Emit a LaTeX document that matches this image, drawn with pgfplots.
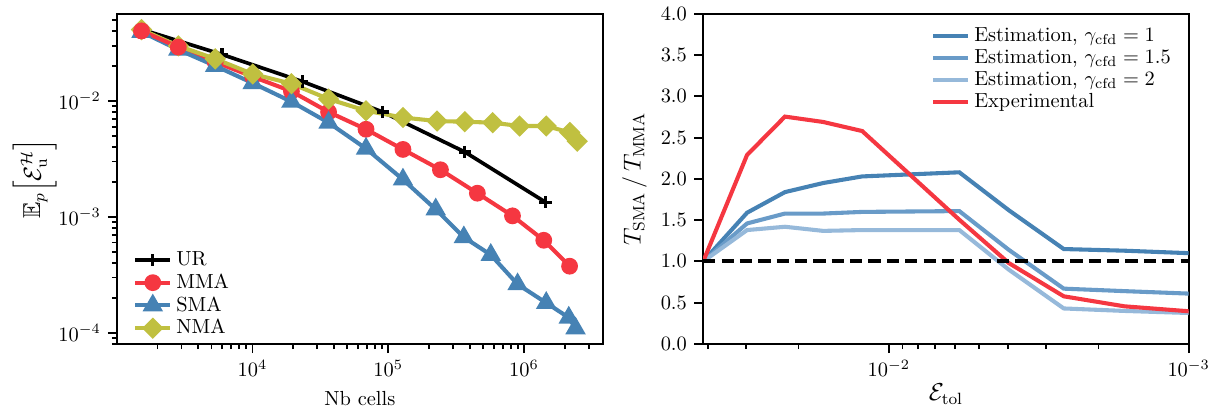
\documentclass[border=0pt]{standalone}
\usepackage{pgfplots}
\pgfplotsset{compat=1.18}
\usepackage{amssymb}
\definecolor{cred}{RGB}{245,55,65}
\definecolor{cblue}{RGB}{70,130,180}
\definecolor{cblueM}{RGB}{105,155,200}
\definecolor{cblueL}{RGB}{150,185,218}
\definecolor{colive}{RGB}{192,192,64}
\pgfplotsset{
  common/.style={
    scale only axis, width=238pt, height=161.8pt,
    tick align=outside, major tick length=4.5pt, minor tick length=2.5pt,
    every tick/.style={black, line width=0.9pt},
    axis line style={line width=1pt},
    xtick pos=left, ytick pos=left,
    legend cell align=left,
  }
}
\begin{document}
\begin{tikzpicture}
\path[use as bounding box] (-57.4pt,-31.9pt) rectangle (543.1pt,168.6pt);
\begin{axis}[common,
  at={(0pt,0pt)}, anchor=south west,
  xmode=log, ymode=log,
  xmin=1007, xmax=3.8e6, ymin=8.0e-5, ymax=0.0565,
  xlabel={Nb cells},
  ylabel={\large$\mathbb{E}_p\Big[\mathcal{E}^{\mathcal{H}}_{\mathrm{u}}\Big]$},
  ylabel style={inner sep=0pt},
  ylabel shift=-2.7pt,
  legend style={draw=none, fill=none, at={(0.02,-0.005)}, anchor=south west, row sep=-1.5pt},
]
\addplot[black, line width=1.8pt, mark=+, mark size=3pt, mark options={line width=1.5pt}] coordinates {
(1524,0.0415) (5970,0.0252) (23300,0.01473) (91400,0.00803) (367000,0.00363) (1.44e6,0.00134)};
\addlegendentry{UR}
\addplot[cred, line width=2pt, mark=*, mark size=3.1pt] coordinates {
(1524,0.0403) (2845,0.0292) (5320,0.0217) (10050,0.0162) (19380,0.01213) (36400,0.00803) (68700,0.0057) (128500,0.00382) (242700,0.00255) (454000,0.0016) (824000,0.00102) (1.40e6,0.000628) (2.17e6,0.000375)};
\addlegendentry{MMA}
\addplot[cblue, line width=2pt, mark=triangle*, mark size=3.8pt] coordinates {
(1524,0.0395) (2845,0.0277) (5320,0.0201) (10050,0.01426) (19380,0.00986) (36400,0.0065) (68700,0.00388) (128500,0.0021) (224000,0.00116) (361000,0.000667) (570000,0.00047) (898000,0.000262) (1.46e6,0.000181) (2.14e6,0.000135) (2.40e6,0.000109)};
\addlegendentry{SMA}
\addplot[colive, line width=2pt, mark=square*, mark size=2.7pt, mark options={rotate=45}] coordinates {
(1524,0.0413) (2845,0.0299) (5320,0.0231) (10050,0.0171) (19380,0.0141) (36400,0.0104) (68700,0.00824) (128500,0.00720) (229000,0.00671) (367000,0.00662) (589000,0.0065) (929000,0.00608) (1.46e6,0.00608) (2.18e6,0.00535) (2.47e6,0.0045)};
\addlegendentry{NMA}
\addplot[cred, line width=2pt, mark=*, mark size=3.1pt, forget plot] coordinates {
(1524,0.0403) (2845,0.0292)};
\end{axis}
\begin{axis}[common,
  at={(287.3pt,0pt)}, anchor=south west,
  xmode=log, x dir=reverse,
  xmin=0.001, xmax=0.0416, ymin=0, ymax=4,
  ytick={0,0.5,...,4},
  yticklabel style={/pgf/number format/.cd, fixed, fixed zerofill, precision=1},
  xlabel={\large$\mathcal{E}_{\mathrm{tol}}$},
  ylabel={\large$T_{\mathrm{SMA}}\,/\,T_{\mathrm{MMA}}$},
  xlabel shift=-3.5pt,
  legend style={draw=none, fill=none, at={(0.985,0.985)}, anchor=north east, row sep=-1.5pt},
]
\addplot[cblue, line width=2pt] coordinates {
(0.0416,1.0) (0.0297,1.59) (0.0222,1.84) (0.01656,1.95) (0.01227,2.03) (0.00582,2.08) (0.00398,1.62) (0.00261,1.15) (0.00164,1.13) (0.001,1.10)};
\addlegendentry{Estimation, $\gamma_{\mathrm{cfd}}=1$}
\addplot[cblueM, line width=2pt] coordinates {
(0.0416,1.0) (0.0297,1.46) (0.0222,1.58) (0.01656,1.58) (0.01227,1.60) (0.00582,1.61) (0.00398,1.14) (0.00261,0.67) (0.00164,0.64) (0.001,0.61)};
\addlegendentry{Estimation, $\gamma_{\mathrm{cfd}}=1.5$}
\addplot[cblueL, line width=2pt] coordinates {
(0.0416,1.0) (0.0297,1.38) (0.0222,1.42) (0.01656,1.37) (0.01227,1.38) (0.00582,1.38) (0.00398,0.90) (0.00261,0.43) (0.00164,0.40) (0.001,0.375)};
\addlegendentry{Estimation, $\gamma_{\mathrm{cfd}}=2$}
\addplot[cred, line width=2pt] coordinates {
(0.0416,1.0) (0.0297,2.29) (0.0222,2.755) (0.01656,2.69) (0.01227,2.58) (0.00582,1.505) (0.00398,0.98) (0.00261,0.577) (0.00164,0.456) (0.001,0.396)};
\addlegendentry{Experimental}
\addplot[black, line width=2pt, dash pattern=on 6pt off 3pt, forget plot] coordinates {
(0.0416,1.0) (0.001,1.0)};
\end{axis}
\end{tikzpicture}
\end{document}
